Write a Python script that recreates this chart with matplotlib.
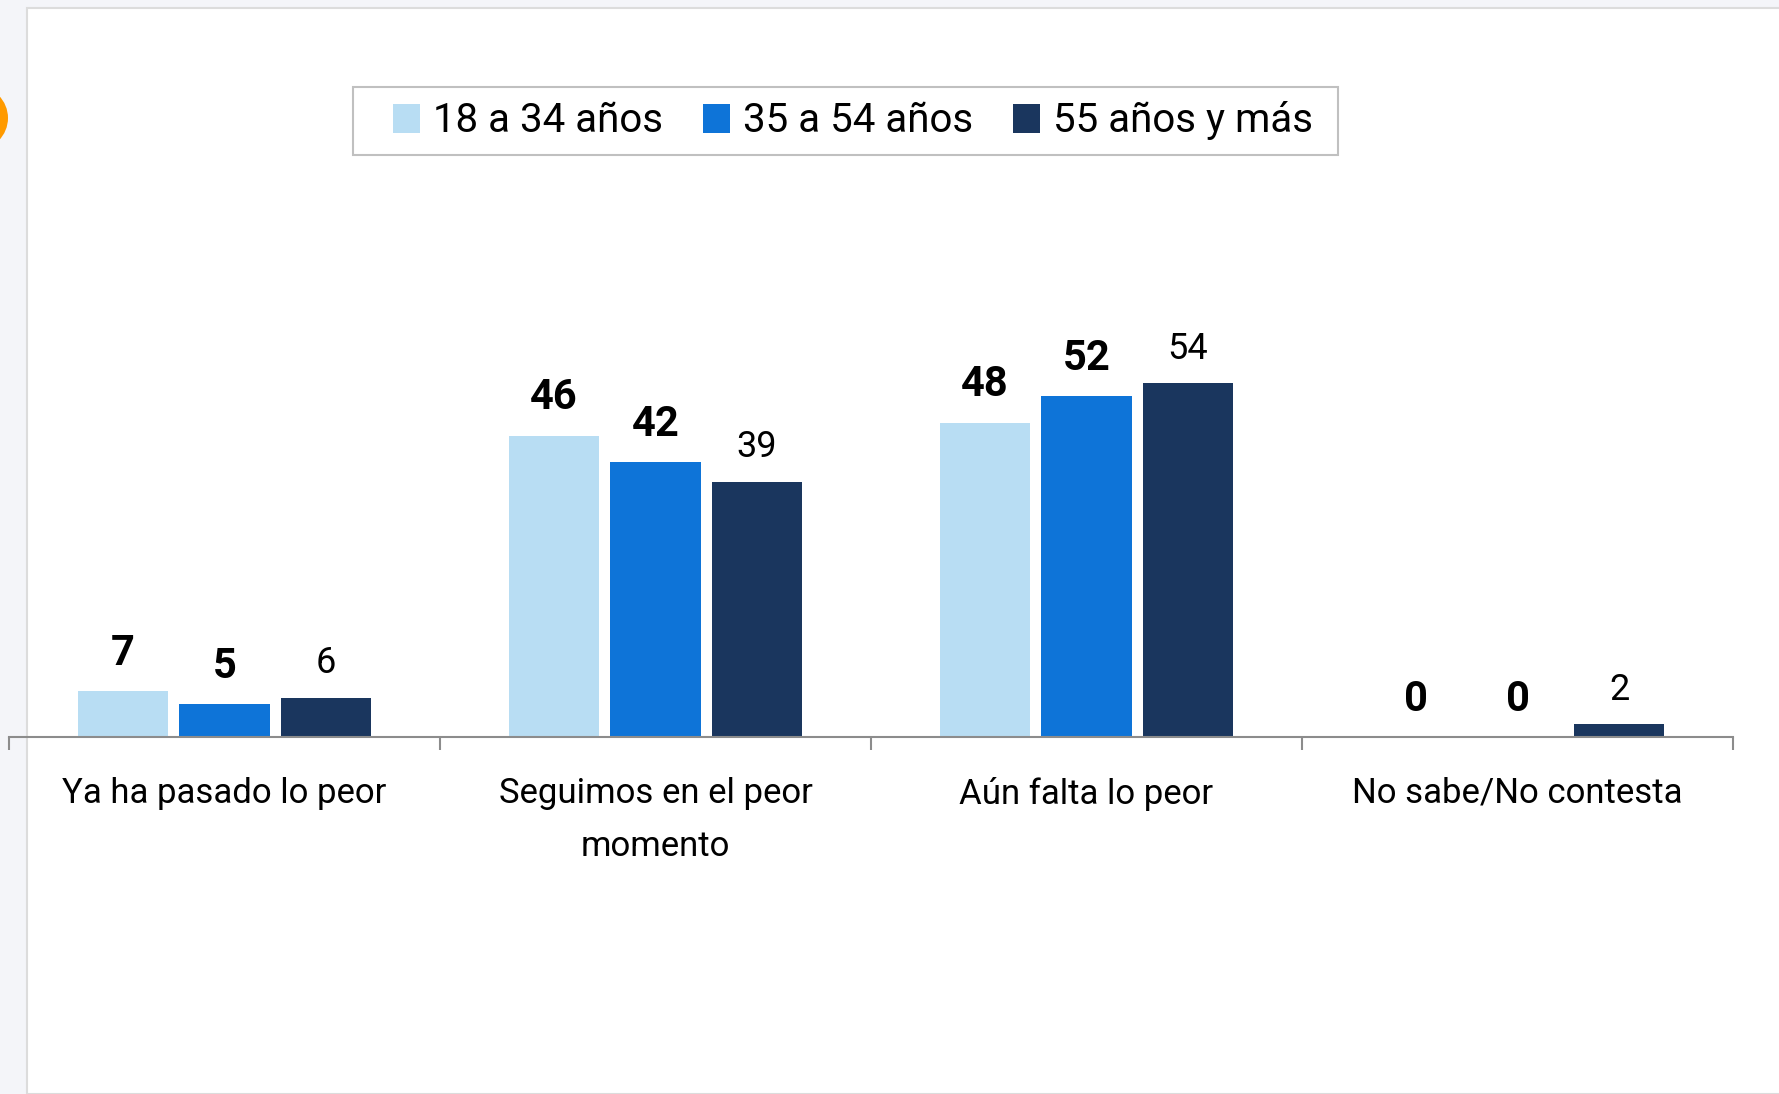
import matplotlib.pyplot as plt
from matplotlib.patches import Rectangle, Ellipse
import numpy as np

categories = ["Ya ha pasado lo peor", "Seguimos en el peor\nmomento",
              "Aún falta lo peor", "No sabe/No contesta"]
series_names = ["18 a 34 años", "35 a 54 años", "55 años y más"]
v_18_34 = [7, 46, 48, 0]
v_35_54 = [5, 42, 52, 0]
v_55 = [6, 39, 54, 2]
values = [v_18_34, v_35_54, v_55]
colors = ["#b8ddf3", "#0e74d8", "#1a365e"]
bold_labels = [True, True, False]

plt.rcParams['font.family'] = ['Roboto', 'DejaVu Sans']

W, H = 1779, 1094
fig = plt.figure(figsize=(W / 100, H / 100), dpi=100, facecolor="#f4f5f9")

# white panel, orange dot at the left edge, legend box
fig.patches.append(Rectangle((27 / W, 0), 1, (H - 8) / H, transform=fig.transFigure,
                             facecolor="white", edgecolor="#dcdcdc", lw=1.5, zorder=-3))
fig.patches.append(Ellipse((-24 / W, 1 - 118 / H), 64 / W, 64 / H, transform=fig.transFigure,
                           facecolor="#ff9a00", edgecolor="none", zorder=-2))
fig.patches.append(Rectangle((353 / W, 1 - 155 / H), (1338 - 353) / W, 68 / H,
                             transform=fig.transFigure, facecolor="none",
                             edgecolor="#c0c0c0", lw=1.5, zorder=-2))

ax_bottom, ax_top = 737, 150
ax = fig.add_axes([9 / W, (H - ax_bottom) / H, (1733 - 9) / W, (ax_bottom - ax_top) / H])
ax.set_facecolor("none")

x = np.arange(len(categories))
pitch = 0.2355
width = 0.211
for i, (vals, col, bold) in enumerate(zip(values, colors, bold_labels)):
    pos = x + (i - 1) * pitch
    ax.bar(pos, vals, width, color=col, label=series_names[i], zorder=2)
    for px, v in zip(pos, vals):
        ax.annotate(str(v), (px, v), xytext=(0, 19 if bold else 17.5), textcoords="offset points",
                    ha="center", va="baseline",
                    fontsize=30 if bold else 26,
                    fontweight="bold" if bold else "normal", color="black")

ax.set_xlim(-0.5, len(categories) - 0.5)
ax.set_ylim(0, (ax_bottom - ax_top) / 6.55)

for s in ["top", "right", "left"]:
    ax.spines[s].set_visible(False)
ax.spines["bottom"].set_color("#8c8c8c")
ax.spines["bottom"].set_linewidth(1.5)
ax.set_yticks([])
ax.set_xticks(x, categories, fontsize=25, linespacing=1.8)
ax.set_xticks(np.arange(-0.5, len(categories)), minor=True)
ax.tick_params(axis="x", which="major", length=0, pad=28.5)
ax.tick_params(axis="x", which="minor", length=9.5, width=1.5, color="#8c8c8c")

fig.legend(loc="center", bbox_to_anchor=(853 / W, 1 - 121 / H), ncol=3,
           fontsize=29, frameon=False,
           handlelength=0.67, handleheight=0.72, handletextpad=0.31,
           columnspacing=1.0, borderpad=0.3)

fig.savefig("out.png", dpi=100, facecolor=fig.get_facecolor())
